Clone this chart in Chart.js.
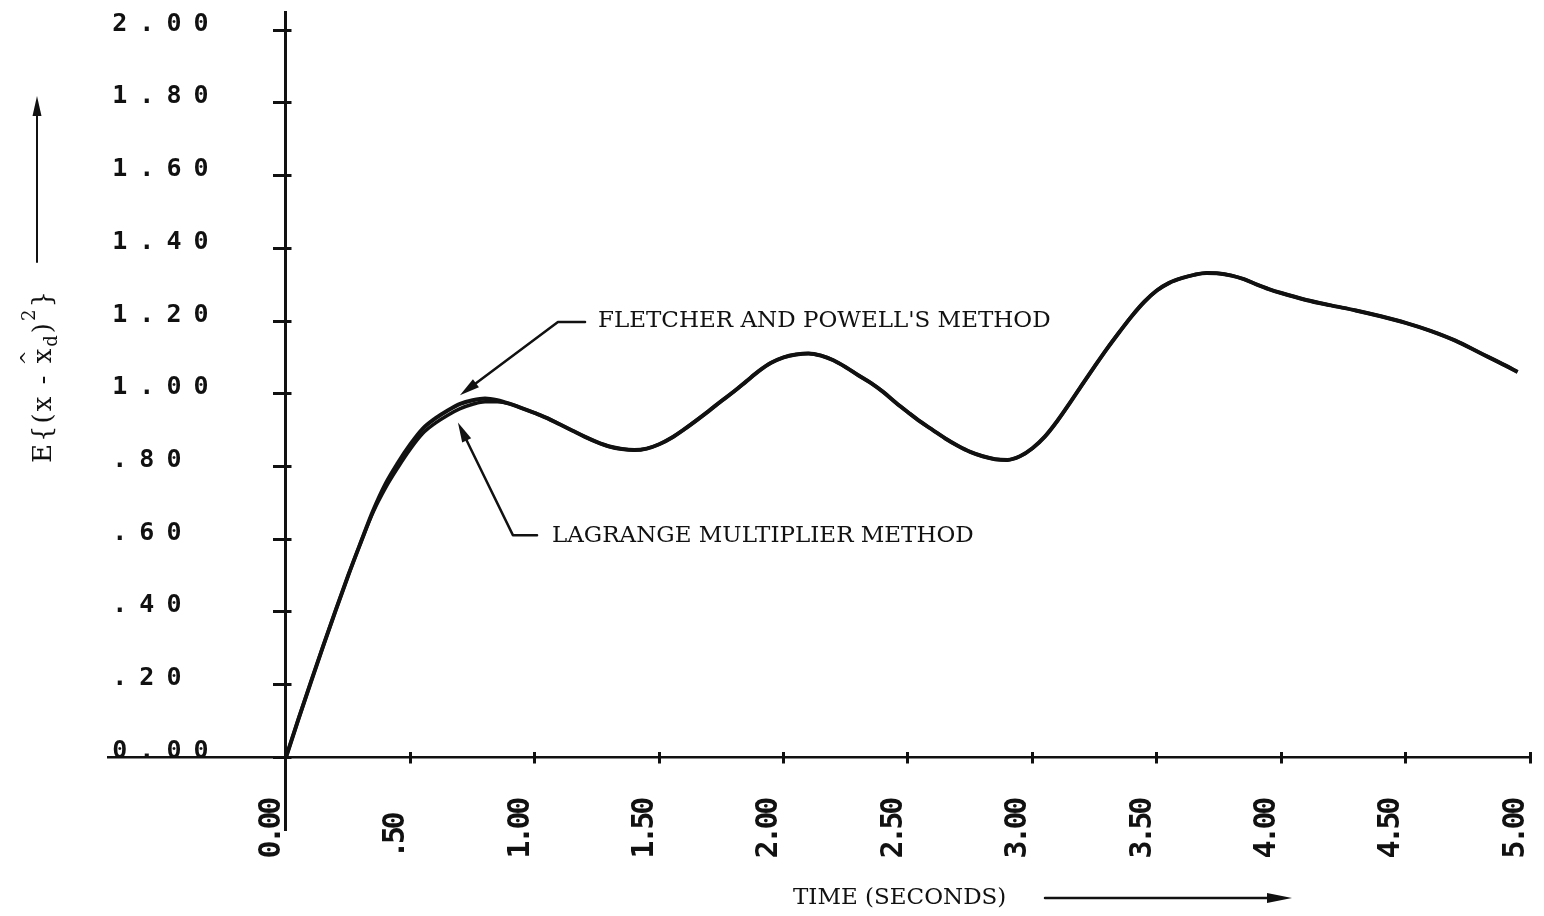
<!DOCTYPE html>
<html>
<head>
<meta charset="utf-8">
<script src="https://cdn.jsdelivr.net/npm/chart.js@4/dist/chart.umd.min.js"></script>
<style>
  html, body { margin: 0; padding: 0; background: #ffffff; }
  #wrap { width: 1544px; height: 916px; position: relative; }
  canvas { display: block; }
</style>
</head>
<body>
<div id="wrap"><canvas id="chart" width="1544" height="916"></canvas></div>
<script>
// ---- data -------------------------------------------------------------
const TIME = [
  0.00, 0.05, 0.10, 0.15, 0.20, 0.25, 0.30, 0.35, 0.40, 0.45,
  0.50, 0.55, 0.60, 0.65, 0.70, 0.75, 0.80, 0.85, 0.90, 0.95,
  1.00, 1.05, 1.10, 1.15, 1.20, 1.25, 1.30, 1.35, 1.40, 1.45,
  1.50, 1.55, 1.60, 1.65, 1.70, 1.75, 1.80, 1.85, 1.90, 1.95,
  2.00, 2.05, 2.10, 2.15, 2.20, 2.25, 2.30, 2.35, 2.40, 2.45,
  2.50, 2.55, 2.60, 2.65, 2.70, 2.75, 2.80, 2.85, 2.90, 2.95,
  3.00, 3.05, 3.10, 3.15, 3.20, 3.25, 3.30, 3.35, 3.40, 3.45,
  3.50, 3.55, 3.60, 3.65, 3.70, 3.75, 3.80, 3.85, 3.90, 3.95,
  4.00, 4.10, 4.20, 4.30, 4.40, 4.50, 4.60, 4.70, 4.80, 4.90, 4.95
];

const FLETCHER_POWELL = [
  0.000, 0.105, 0.207, 0.307, 0.405, 0.500, 0.590, 0.678, 0.752, 0.810,
  0.861, 0.904, 0.932, 0.954, 0.972, 0.982, 0.987, 0.982, 0.972, 0.960,
  0.947, 0.933, 0.916, 0.899, 0.882, 0.867, 0.855, 0.848, 0.845, 0.849,
  0.861, 0.879, 0.902, 0.927, 0.953, 0.980, 1.006, 1.034, 1.062, 1.085,
  1.100, 1.108, 1.111, 1.105, 1.092, 1.073, 1.051, 1.030, 1.005, 0.976,
  0.949, 0.923, 0.900, 0.877, 0.857, 0.840, 0.828, 0.820, 0.818, 0.828,
  0.850, 0.882, 0.925, 0.974, 1.025, 1.075, 1.124, 1.170, 1.214, 1.253,
  1.284, 1.305, 1.318, 1.327, 1.332, 1.331, 1.325, 1.315, 1.301, 1.288,
  1.277, 1.258, 1.243, 1.229, 1.213, 1.195, 1.173, 1.146, 1.112, 1.078, 1.060
];

const LAGRANGE = [
  0.000, 0.105, 0.207, 0.307, 0.405, 0.500, 0.590, 0.674, 0.741, 0.797,
  0.848, 0.891, 0.919, 0.941, 0.959, 0.971, 0.978, 0.978, 0.972, 0.960,
  0.947, 0.933, 0.916, 0.899, 0.882, 0.867, 0.855, 0.848, 0.845, 0.849,
  0.861, 0.879, 0.902, 0.927, 0.953, 0.980, 1.006, 1.034, 1.062, 1.085,
  1.100, 1.108, 1.111, 1.105, 1.092, 1.073, 1.051, 1.030, 1.005, 0.976,
  0.949, 0.923, 0.900, 0.877, 0.857, 0.840, 0.828, 0.820, 0.818, 0.828,
  0.850, 0.882, 0.925, 0.974, 1.025, 1.075, 1.124, 1.170, 1.214, 1.253,
  1.284, 1.305, 1.318, 1.327, 1.332, 1.331, 1.325, 1.315, 1.301, 1.288,
  1.277, 1.258, 1.243, 1.229, 1.213, 1.195, 1.173, 1.146, 1.112, 1.078, 1.060
];

const X_TICKS = [0, 0.5, 1, 1.5, 2, 2.5, 3, 3.5, 4, 4.5, 5];
const X_TICK_LABELS = ['0.00', '.50 ', '1.00', '1.50', '2.00', '2.50', '3.00', '3.50', '4.00', '4.50', '5.00'];
const Y_TICKS = [0, 0.2, 0.4, 0.6, 0.8, 1, 1.2, 1.4, 1.6, 1.8, 2];
const Y_TICK_LABELS = ['0.00', '.20 ', '.40 ', '.60 ', '.80 ', '1.00', '1.20', '1.40', '1.60', '1.80', '2.00'];

// ---- styling ----------------------------------------------------------
const INK = '#111111';
const TEXT_FONT = '"DejaVu Serif", "Liberation Serif", serif';
const TICK_FONT = '"DejaVu Sans Mono", "Liberation Mono", monospace';
const LABEL_SPACING = { x: -3.5, y: 12 };
const TICK_INNER = { x: 6.5, y: 7.5 };   // how far each tick mark reaches back across the axis line

// Linear scale drawn like a pen plotter axis: tick marks cross the axis
// line, labels get extra letter spacing, and a vertical axis placed at a
// data position keeps its labels clear of the line.
class PlotterLinearScale extends Chart.LinearScale {
  _computeGridLineItems(chartArea) {
    const items = super._computeGridLineItems(chartArea);
    const inner = TICK_INNER[this.id] || 0;
    for (const it of items) {
      if (this.isHorizontal()) it.ty1 -= inner;
      else it.tx1 += inner;
    }
    return items;
  }
  _computeLabelItems(chartArea) {
    const items = super._computeLabelItems(chartArea);
    const pos = this.options.position;
    if (!this.isHorizontal() && pos && typeof pos === 'object') {
      const gap = this.options.grid.tickLength + this.options.ticks.padding;
      for (const it of items) it.options.translation[0] -= gap;
    }
    return items;
  }
  drawLabels(chartArea) {
    const ctx = this.ctx;
    ctx.save();
    if ('letterSpacing' in ctx) ctx.letterSpacing = (LABEL_SPACING[this.id] || 0) + 'px';
    super.drawLabels(chartArea);
    ctx.restore();
  }
}
PlotterLinearScale.id = 'plotterLinear';
Chart.register(PlotterLinearScale);

// axes placed inside the plot take no room of their own
const noRoom = (s) => {
  if (s.isHorizontal()) s.height = 0; else s.width = 0;
  s.paddingLeft = s.paddingRight = s.paddingTop = s.paddingBottom = 0;
};

// callouts
const NOTES = [
  { text: "FLETCHER AND POWELL'S METHOD", tip: [0.699, 0.996], elbow: [1.093, 1.197], end: [1.202, 1.197], at: [1.254, 1.199] },
  { text: 'LAGRANGE MULTIPLIER METHOD', tip: [0.691, 0.921], elbow: [0.912, 0.611], end: [1.009, 0.611], at: [1.069, 0.608] }
];

function arrowHead(ctx, from, to, len, half) {
  const dx = to[0] - from[0], dy = to[1] - from[1];
  const d = Math.hypot(dx, dy) || 1;
  const ux = dx / d, uy = dy / d;
  const bx = to[0] - ux * len, by = to[1] - uy * len;
  ctx.beginPath();
  ctx.moveTo(to[0], to[1]);
  ctx.lineTo(bx - uy * half, by + ux * half);
  ctx.lineTo(bx + uy * half, by - ux * half);
  ctx.closePath();
  ctx.fill();
  return [bx, by];
}

const notesPlugin = {
  id: 'notes',
  afterDraw(chart) {
    const { ctx, scales } = chart;
    const xs = scales.x, ys = scales.y;
    const px = (p) => [xs.getPixelForValue(p[0]), ys.getPixelForValue(p[1])];
    ctx.save();
    ctx.fillStyle = INK;
    ctx.strokeStyle = INK;
    ctx.lineCap = 'round';
    ctx.lineJoin = 'round';

    for (const n of NOTES) {
      const tip = px(n.tip), elbow = px(n.elbow), end = px(n.end), at = px(n.at);
      ctx.lineWidth = 2.5;
      const base = arrowHead(ctx, elbow, tip, 20, 5);
      ctx.beginPath();
      ctx.moveTo(end[0], end[1]);
      ctx.lineTo(elbow[0], elbow[1]);
      ctx.lineTo(base[0], base[1]);
      ctx.stroke();
      ctx.font = '23px ' + TEXT_FONT;
      ctx.textAlign = 'left';
      ctx.textBaseline = 'middle';
      ctx.fillText(n.text, at[0], at[1]);
    }

    // x axis caption with arrow
    ctx.font = '23px ' + TEXT_FONT;
    ctx.textAlign = 'left';
    ctx.textBaseline = 'middle';
    ctx.fillText('TIME (SECONDS)', 793, 898);
    ctx.lineWidth = 2.5;
    const xb = arrowHead(ctx, [1045, 898], [1292, 898], 25, 5);
    ctx.beginPath();
    ctx.moveTo(1045, 898);
    ctx.lineTo(xb[0], xb[1]);
    ctx.stroke();

    // y axis caption, read bottom to top, with arrow
    ctx.save();
    ctx.translate(51, 463);
    ctx.rotate(-Math.PI / 2);
    ctx.textAlign = 'left';
    ctx.textBaseline = 'alphabetic';
    if ('letterSpacing' in ctx) ctx.letterSpacing = '2px';
    const big = '26px ' + TEXT_FONT, small = '18px ' + TEXT_FONT;
    let cx = 0;
    const piece = (s, font, dy) => {
      ctx.font = font;
      ctx.fillText(s, cx, dy);
      const w = ctx.measureText(s).width;
      cx += w;
      return w;
    };
    piece('E{(x - ', big, 0);
    const hatX = cx;
    const xw = piece('x', big, 0);
    ctx.font = small;
    ctx.textAlign = 'center';
    ctx.fillText('^', hatX + xw / 2 - 2, -17);
    ctx.textAlign = 'left';
    piece('d', small, 6);
    piece(')', big, 0);
    piece('2', small, -16);
    piece('}', big, 0);
    ctx.restore();

    ctx.lineWidth = 2;
    const yb = arrowHead(ctx, [37, 262], [37, 96], 20, 4.5);
    ctx.beginPath();
    ctx.moveTo(37, 262);
    ctx.lineTo(yb[0], yb[1]);
    ctx.stroke();

    ctx.restore();
  }
};

const toPoints = (ys) => TIME.map((t, i) => ({ x: t, y: ys[i] }));
const fixTicks = (values) => (scale) => { scale.ticks = values.map((v) => ({ value: v })); };

const X_MIN = -0.7154, X_MAX = 5;
const Y_MIN = -0.2, Y_MAX = 2.05;

new Chart(document.getElementById('chart'), {
  type: 'line',
  data: {
    datasets: [
      { label: "FLETCHER AND POWELL'S METHOD", data: toPoints(FLETCHER_POWELL), borderColor: INK, borderWidth: 4, pointRadius: 0, cubicInterpolationMode: 'monotone', fill: false },
      { label: 'LAGRANGE MULTIPLIER METHOD', data: toPoints(LAGRANGE), borderColor: INK, borderWidth: 3.5, pointRadius: 0, cubicInterpolationMode: 'monotone', fill: false }
    ]
  },
  options: {
    responsive: false,
    devicePixelRatio: 1,
    animation: false,
    layout: { padding: { left: 108, right: 14, top: 12, bottom: 86 } },
    plugins: { legend: { display: false }, tooltip: { enabled: false } },
    scales: {
      x: {
        type: 'plotterLinear',
        min: X_MIN, max: X_MAX,
        position: { y: 0 },
        afterBuildTicks: fixTicks(X_TICKS),
        afterFit: noRoom,
        border: { display: true, width: 2.5, color: INK },
        grid: { display: true, drawOnChartArea: false, drawTicks: true, tickLength: 5, tickWidth: 3, tickColor: INK, color: INK },
        ticks: {
          autoSkip: false, minRotation: 90, maxRotation: 90,
          padding: 38, labelOffset: -14, color: INK,
          font: { family: TICK_FONT, weight: 'bold', size: 30 },
          callback: (v) => X_TICK_LABELS[X_TICKS.indexOf(v)]
        }
      },
      y: {
        type: 'plotterLinear',
        min: Y_MIN, max: Y_MAX,
        position: { x: 0 },
        afterBuildTicks: fixTicks(Y_TICKS),
        afterFit: noRoom,
        border: { display: true, width: 3, color: INK },
        grid: { display: true, drawOnChartArea: false, drawTicks: true, tickLength: 11, tickWidth: 3, tickColor: INK, color: INK },
        ticks: {
          padding: 54.5, labelOffset: -6, color: INK,
          font: { family: TICK_FONT, weight: 'bold', size: 25 },
          callback: (v) => Y_TICK_LABELS[Y_TICKS.indexOf(v)]
        }
      }
    }
  },
  plugins: [notesPlugin]
});
</script>
</body>
</html>
